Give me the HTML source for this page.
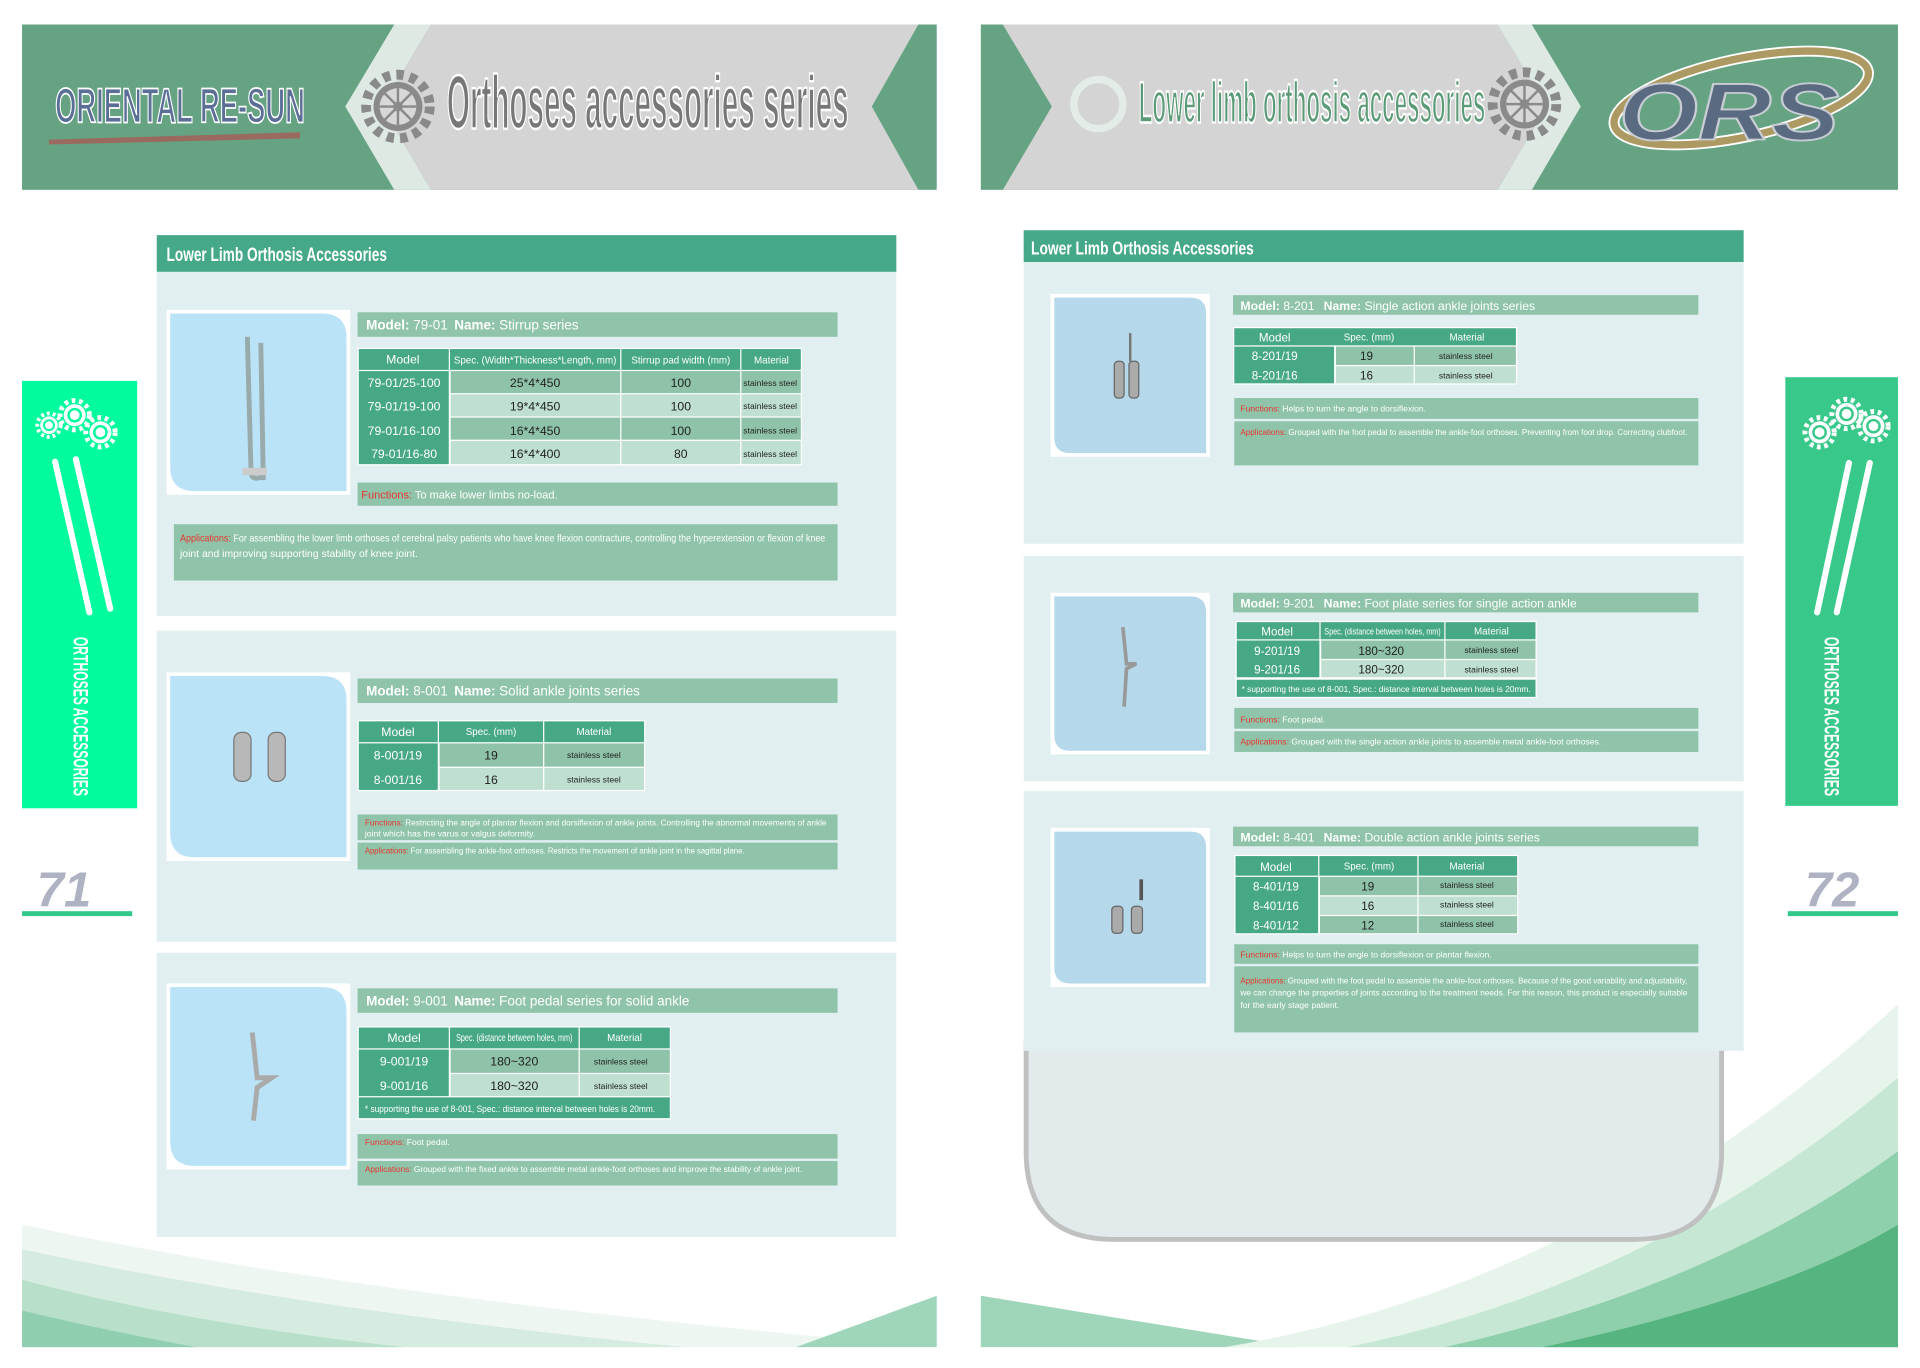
<!DOCTYPE html>
<html><head><meta charset="utf-8"><style>
html,body{margin:0;padding:0;background:#fff;width:1920px;height:1368px;overflow:hidden}
svg{display:block}
text{font-family:"Liberation Sans Narrow","Liberation Sans",sans-serif}
.w{fill:#fff}
.b{font-weight:bold}
.r{fill:#e8352f}
</style></head><body>
<svg width="1920" height="1368" viewBox="0 0 1568 1117" preserveAspectRatio="none" xmlns="http://www.w3.org/2000/svg">
<defs>
<g id="gear"><circle r="20" fill="#8a8a8a"/><circle r="26" fill="none" stroke="#8a8a8a" stroke-width="8" stroke-dasharray="6 5"/><circle r="15" fill="#d8d8d8"/><circle r="4" fill="#8a8a8a"/><g stroke="#8a8a8a" stroke-width="2"><line x1="-15" y1="0" x2="15" y2="0"/><line x1="0" y1="-15" x2="0" y2="15"/><line x1="-11" y1="-11" x2="11" y2="11"/><line x1="-11" y1="11" x2="11" y2="-11"/></g></g>
<g id="wgear"><circle r="9" fill="#fff"/><circle r="12" fill="none" stroke="#fff" stroke-width="4" stroke-dasharray="3 3"/><circle r="5" fill="none" stroke-width="2" stroke="currentColor"/></g>
</defs>

<!-- LEFT HEADER -->
<rect x="18" y="20" width="747" height="135" fill="#65a383"/>
<polygon points="322,20 352,20 312,87 352,155 322,155 282,87" fill="#dfe9e4"/>
<polygon points="352,20 750,20 712,87 750,155 352,155 312,87" fill="#d4d4d4"/>
<text x="45" y="100" font-size="40" class="b" fill="#5b6f96" stroke="#fff" stroke-width="1.5" textLength="204" lengthAdjust="spacingAndGlyphs">ORIENTAL RE-SUN</text>
<path d="M40,114 L245,108 L245,113 L40,118 Z" fill="#9a6a60"/>
<use href="#gear" x="325" y="87"/>
<text x="365" y="105" font-size="62" class="b" fill="#777" stroke="#fff" stroke-width="2" textLength="328" lengthAdjust="spacingAndGlyphs">Orthoses accessories series</text>

<!-- RIGHT HEADER -->
<rect x="801" y="20" width="749" height="135" fill="#65a383"/>
<polygon points="819,20 1223,20 1263,87 1223,155 819,155 859,87" fill="#d4d4d4"/>
<polygon points="1223,20 1251,20 1291,87 1251,155 1223,155 1263,87" fill="#dfe9e4"/>
<circle cx="897" cy="85" r="20" fill="none" stroke="#e4ece7" stroke-width="6"/>
<text x="930" y="100" font-size="48" class="b" fill="#5a9a76" stroke="#fff" stroke-width="2" textLength="283" lengthAdjust="spacingAndGlyphs">Lower limb orthosis accessories</text>
<use href="#gear" x="1245" y="85"/>
<ellipse cx="1422" cy="80" rx="106" ry="32" transform="rotate(-12 1422 80)" fill="none" stroke="#fff" stroke-width="9"/>
<ellipse cx="1422" cy="80" rx="106" ry="32" transform="rotate(-12 1422 80)" fill="none" stroke="#ad9a62" stroke-width="6"/>
<text x="1322" y="114" font-size="66" class="b" font-style="italic" fill="#5a6a80" stroke="#c8ccd4" stroke-width="1.5" textLength="180" lengthAdjust="spacingAndGlyphs" font-family="Liberation Sans">ORS</text>

<!-- SIDEBARS -->
<rect x="18" y="311" width="94" height="349" fill="#02fb9c"/>
<g color="#02fb9c"><use href="#wgear" x="40" y="347" transform="scale(0.8) translate(10 87)"/><use href="#wgear" x="61" y="339"/><use href="#wgear" x="82" y="353"/></g>
<g stroke="#fff" stroke-width="5" stroke-linecap="round"><line x1="45" y1="377" x2="73" y2="500"/><line x1="62" y1="375" x2="90" y2="497"/></g>
<text transform="translate(60,520) rotate(90)" font-size="17" class="b w" textLength="130" lengthAdjust="spacingAndGlyphs">ORTHOSES ACCESSORIES</text>
<text x="30" y="740" font-size="40" class="b" fill="#aeb2c3" font-family="Liberation Serif" font-style="italic">71</text>
<rect x="18" y="744" width="90" height="4" fill="#33c98a"/>

<rect x="1458" y="308" width="92" height="350" fill="#38c98a"/>
<g color="#38c98a"><use href="#wgear" x="1486" y="353"/><use href="#wgear" x="1508" y="338"/><use href="#wgear" x="1530" y="348"/></g>
<g stroke="#fff" stroke-width="5" stroke-linecap="round"><line x1="1510" y1="378" x2="1484" y2="500"/><line x1="1527" y1="378" x2="1500" y2="500"/></g>
<text transform="translate(1490,520) rotate(90)" font-size="17" class="b w" textLength="130" lengthAdjust="spacingAndGlyphs">ORTHOSES ACCESSORIES</text>
<text x="1474" y="740" font-size="40" class="b" fill="#aeb2c3" font-family="Liberation Serif" font-style="italic">72</text>
<rect x="1460" y="744" width="90" height="4" fill="#33c98a"/>

<!-- BOTTOM WAVES -->
<path d="M18,1000 Q300,1060 765,1100 L18,1100 Z" fill="#eef6f1"/>
<path d="M18,1020 Q250,1070 560,1100 L18,1100 Z" fill="#d6ece0"/>
<path d="M18,1045 Q150,1080 330,1100 L18,1100 Z" fill="#b8dfc9"/>
<path d="M18,1070 Q80,1085 160,1100 L18,1100 Z" fill="#8fcfaf"/>
<path d="M650,1100 L765,1058 L765,1100 Z" fill="#9fd6b9"/>
<path d="M801,1058 L1060,1100 L801,1100 Z" fill="#9fd6b9"/>
<path d="M1000,1100 Q1300,1050 1550,820 L1550,1100 Z" fill="#e7f4ec"/>
<path d="M1100,1100 Q1350,1050 1550,880 L1550,1100 Z" fill="#c6e7d4"/>
<path d="M1180,1100 Q1400,1050 1550,940 L1550,1100 Z" fill="#8fd0ac"/>
<path d="M1260,1100 Q1450,1060 1550,1000 L1550,1100 Z" fill="#55b47f"/>

<!-- LEFT PANEL -->
<rect x="128" y="192" width="604" height="30" fill="#45a888"/>
<text x="136" y="213" font-size="16" class="b w" textLength="180" lengthAdjust="spacingAndGlyphs">Lower Limb Orthosis Accessories</text>
<rect x="128" y="222" width="604" height="281" fill="#e2eff0"/>
<rect x="128" y="515" width="604" height="254" fill="#e2eff0"/>
<rect x="128" y="778" width="604" height="232" fill="#e2eff0"/>

<!-- L1 -->
<rect x="136" y="253" width="150" height="151" fill="#fff"/>
<path d="M139,256 H263 Q283,256 283,276 V401 H159 Q139,401 139,381 Z" fill="#bae3f8"/>
<path d="M202,275 L205,385 Q205,392 212,390 L215,390 L213,280" fill="none" stroke="#9aa" stroke-width="4"/>
<rect x="198" y="382" width="20" height="6" fill="#ccc"/>
<rect x="292" y="255" width="392" height="20" fill="#8fc4aa"/>
<text x="299" y="269" font-size="11" class="w"><tspan class="b">Model:</tspan> 79-01</text><text x="371" y="269" font-size="11" class="w"><tspan class="b">Name:</tspan> Stirrup series</text>
<rect x="292" y="284" width="363" height="96" fill="#fff"/>
<rect x="293" y="285" width="361" height="17" fill="#47a886"/>
<rect x="293" y="303" width="74" height="76" fill="#47a886"/>
<rect x="368" y="303" width="286" height="18" fill="#8fc3a9"/>
<rect x="368" y="322" width="286" height="18" fill="#bfe0d0"/>
<rect x="368" y="341" width="286" height="18" fill="#8fc3a9"/>
<rect x="368" y="360" width="286" height="19" fill="#bfe0d0"/>
<g stroke="#fff" stroke-width="1"><line x1="367" y1="284" x2="367" y2="380"/><line x1="507" y1="284" x2="507" y2="380"/><line x1="605" y1="284" x2="605" y2="380"/></g>
<g font-size="10" class="w" text-anchor="middle"><text x="329" y="297">Model</text><text x="437" y="297" font-size="8">Spec. (Width*Thickness*Length, mm)</text><text x="556" y="297" font-size="8">Stirrup pad width (mm)</text><text x="630" y="297" font-size="8">Material</text>
<text x="330" y="316">79-01/25-100</text><text x="330" y="335">79-01/19-100</text><text x="330" y="355">79-01/16-100</text><text x="330" y="374">79-01/16-80</text></g>
<g font-size="10" fill="#222" text-anchor="middle"><text x="437" y="316">25*4*450</text><text x="437" y="335">19*4*450</text><text x="437" y="355">16*4*450</text><text x="437" y="374">16*4*400</text>
<text x="556" y="316">100</text><text x="556" y="335">100</text><text x="556" y="355">100</text><text x="556" y="374">80</text>
<g font-size="7"><text x="629" y="315">stainless steel</text><text x="629" y="334">stainless steel</text><text x="629" y="354">stainless steel</text><text x="629" y="373">stainless steel</text></g></g>
<rect x="292" y="394" width="392" height="19" fill="#8fc4aa"/>
<text x="295" y="407" font-size="9" class="w"><tspan class="r">Functions:</tspan> To make lower limbs no-load.</text>
<rect x="142" y="428" width="542" height="46" fill="#8fc4aa"/>
<text x="147" y="442" font-size="8.5" class="w" textLength="527" lengthAdjust="spacingAndGlyphs"><tspan class="r">Applications:</tspan> For assembling the lower limb orthoses of cerebral palsy patients who have knee flexion contracture, controlling the hyperextension or flexion of knee</text>
<text x="147" y="455" font-size="8.5" class="w">joint and improving supporting stability of knee joint.</text>

<!-- L2 -->
<rect x="136" y="549" width="150" height="154" fill="#fff"/>
<path d="M139,552 H263 Q283,552 283,572 V700 H159 Q139,700 139,680 Z" fill="#bae3f8"/>
<rect x="191" y="598" width="14" height="40" rx="6" fill="#b8b8b8" stroke="#777"/><rect x="219" y="598" width="14" height="40" rx="6" fill="#b8b8b8" stroke="#777"/>
<rect x="292" y="554" width="392" height="20" fill="#8fc4aa"/>
<text x="299" y="568" font-size="11" class="w"><tspan class="b">Model:</tspan> 8-001</text><text x="371" y="568" font-size="11" class="w"><tspan class="b">Name:</tspan> Solid ankle joints series</text>
<rect x="292" y="588" width="235" height="58" fill="#fff"/>
<rect x="293" y="589" width="233" height="17" fill="#47a886"/>
<rect x="293" y="607" width="65" height="38" fill="#47a886"/>
<rect x="359" y="607" width="167" height="19" fill="#8fc3a9"/><rect x="359" y="627" width="167" height="18" fill="#bfe0d0"/>
<g stroke="#fff"><line x1="358" y1="588" x2="358" y2="646"/><line x1="444" y1="588" x2="444" y2="646"/></g>
<g font-size="10" class="w" text-anchor="middle"><text x="325" y="601">Model</text><text x="401" y="600" font-size="8">Spec. (mm)</text><text x="485" y="600" font-size="8">Material</text><text x="325" y="620">8-001/19</text><text x="325" y="640">8-001/16</text></g>
<g font-size="10" fill="#222" text-anchor="middle"><text x="401" y="620">19</text><text x="401" y="640">16</text><g font-size="7"><text x="485" y="619">stainless steel</text><text x="485" y="639">stainless steel</text></g></g>
<rect x="292" y="665" width="392" height="21" fill="#8fc4aa"/>
<text x="298" y="674" font-size="7" class="w" textLength="377" lengthAdjust="spacingAndGlyphs"><tspan class="r">Functions:</tspan> Restricting the angle of plantar flexion and dorsiflexion of ankle joints. Controlling the abnormal movements of ankle</text>
<text x="298" y="683" font-size="7" class="w">joint which has the varus or valgus deformity.</text>
<rect x="292" y="688" width="392" height="22" fill="#8fc4aa"/>
<text x="298" y="697" font-size="7" class="w" textLength="310" lengthAdjust="spacingAndGlyphs"><tspan class="r">Applications:</tspan> For assembling the ankle-foot orthoses. Restricts the movement of ankle joint in the sagittal plane.</text>

<!-- L3 -->
<rect x="136" y="803" width="150" height="152" fill="#fff"/>
<path d="M139,806 H263 Q283,806 283,826 V952 H159 Q139,952 139,932 Z" fill="#bae3f8"/>
<path d="M206,843 L210,880 L222,880 L210,888 L207,915" fill="none" stroke="#aaa" stroke-width="4"/>
<rect x="292" y="807" width="392" height="20" fill="#8fc4aa"/>
<text x="299" y="821" font-size="11" class="w"><tspan class="b">Model:</tspan> 9-001</text><text x="371" y="821" font-size="11" class="w"><tspan class="b">Name:</tspan> Foot pedal series for solid ankle</text>
<rect x="292" y="838" width="256" height="76" fill="#fff"/>
<rect x="293" y="839" width="254" height="17" fill="#47a886"/>
<rect x="293" y="857" width="74" height="38" fill="#47a886"/>
<rect x="368" y="857" width="179" height="19" fill="#8fc3a9"/><rect x="368" y="877" width="179" height="18" fill="#bfe0d0"/>
<rect x="293" y="896" width="254" height="17" fill="#47a886"/>
<g stroke="#fff"><line x1="367" y1="838" x2="367" y2="895"/><line x1="473" y1="838" x2="473" y2="895"/></g>
<g font-size="10" class="w" text-anchor="middle"><text x="330" y="851">Model</text><text x="420" y="850" font-size="8" textLength="95" lengthAdjust="spacingAndGlyphs">Spec. (distance between holes, mm)</text><text x="510" y="850" font-size="8">Material</text><text x="330" y="870">9-001/19</text><text x="330" y="890">9-001/16</text></g>
<g font-size="10" fill="#222" text-anchor="middle"><text x="420" y="870">180~320</text><text x="420" y="890">180~320</text><g font-size="7"><text x="507" y="869">stainless steel</text><text x="507" y="889">stainless steel</text></g></g>
<text x="298" y="908" font-size="7.5" class="w" textLength="237" lengthAdjust="spacingAndGlyphs">* supporting the use of 8-001, Spec.: distance interval between holes is 20mm.</text>
<rect x="292" y="926" width="392" height="20" fill="#8fc4aa"/>
<text x="298" y="935" font-size="7" class="w"><tspan class="r">Functions:</tspan> Foot pedal.</text>
<rect x="292" y="948" width="392" height="20" fill="#8fc4aa"/>
<text x="298" y="957" font-size="7" class="w" textLength="357" lengthAdjust="spacingAndGlyphs"><tspan class="r">Applications:</tspan> Grouped with the fixed ankle to assemble metal ankle-foot orthoses and improve the stability of ankle joint.</text>

<!-- RIGHT PANEL -->
<path d="M838,850 V940 Q838,1012 910,1012 H1334 Q1406,1012 1406,940 V850" fill="#e2eaec" stroke="#c0c0c0" stroke-width="4"/>
<rect x="836" y="188" width="588" height="26" fill="#45a888"/>
<text x="842" y="208" font-size="15" class="b w" textLength="182" lengthAdjust="spacingAndGlyphs">Lower Limb Orthosis Accessories</text>
<rect x="836" y="214" width="588" height="230" fill="#e2eff0"/>
<rect x="836" y="454" width="588" height="184" fill="#e2eff0"/>
<rect x="836" y="646" width="588" height="212" fill="#e2eff0"/>

<!-- R1 -->
<rect x="858" y="240" width="130" height="133" fill="#fff"/>
<path d="M861,243 H972 Q985,243 985,256 V370 H874 Q861,370 861,357 Z" fill="#b5d9ea"/>
<rect x="910" y="295" width="8" height="30" rx="3" fill="#aaa" stroke="#666"/><rect x="922" y="295" width="8" height="30" rx="3" fill="#aaa" stroke="#666"/><line x1="923" y1="272" x2="923" y2="295" stroke="#777" stroke-width="2"/>
<rect x="1007" y="241" width="380" height="16" fill="#8fc4aa"/>
<text x="1013" y="253" font-size="10" class="w"><tspan class="b">Model:</tspan> 8-201</text><text x="1081" y="253" font-size="10" class="w"><tspan class="b">Name:</tspan> Single action ankle joints series</text>
<rect x="1007" y="267" width="232" height="47" fill="#fff"/>
<rect x="1008" y="268" width="230" height="14" fill="#47a886"/>
<rect x="1008" y="283" width="82" height="30" fill="#47a886"/>
<rect x="1091" y="283" width="147" height="15" fill="#8fc3a9"/><rect x="1091" y="299" width="147" height="14" fill="#bfe0d0"/>
<g stroke="#fff"><line x1="1155" y1="282" x2="1155" y2="314"/><line x1="1090" y1="282" x2="1090" y2="314"/></g>
<g font-size="9.5" class="w" text-anchor="middle"><text x="1041" y="279">Model</text><text x="1118" y="278" font-size="8">Spec. (mm)</text><text x="1198" y="278" font-size="8">Material</text><text x="1041" y="294">8-201/19</text><text x="1041" y="310">8-201/16</text></g>
<g font-size="9.5" fill="#222" text-anchor="middle"><text x="1116" y="294">19</text><text x="1116" y="310">16</text><g font-size="7"><text x="1197" y="293">stainless steel</text><text x="1197" y="309">stainless steel</text></g></g>
<rect x="1008" y="325" width="379" height="17" fill="#8fc4aa"/>
<text x="1013" y="336" font-size="7" class="w"><tspan class="r">Functions:</tspan> Helps to turn the angle to dorsiflexion.</text>
<rect x="1008" y="344" width="379" height="36" fill="#8fc4aa"/>
<text x="1013" y="355" font-size="7" class="w" textLength="365" lengthAdjust="spacingAndGlyphs"><tspan class="r">Applications:</tspan> Grouped with the foot pedal to assemble the ankle-foot orthoses. Preventing from foot drop. Correcting clubfoot.</text>

<!-- R2 -->
<rect x="858" y="484" width="130" height="132" fill="#fff"/>
<path d="M861,487 H972 Q985,487 985,500 V613 H874 Q861,613 861,600 Z" fill="#b5d9ea"/>
<path d="M917,512 L920,542 L928,542 L920,546 L918,577" fill="none" stroke="#999" stroke-width="3"/>
<rect x="1007" y="484" width="380" height="16" fill="#8fc4aa"/>
<text x="1013" y="496" font-size="10" class="w"><tspan class="b">Model:</tspan> 9-201</text><text x="1081" y="496" font-size="10" class="w"><tspan class="b">Name:</tspan> Foot plate series for single action ankle</text>
<rect x="1009" y="507" width="246" height="63" fill="#fff"/>
<rect x="1010" y="508" width="244" height="14" fill="#47a886"/>
<rect x="1010" y="523" width="68" height="30" fill="#47a886"/>
<rect x="1079" y="523" width="175" height="15" fill="#8fc3a9"/><rect x="1079" y="539" width="175" height="14" fill="#bfe0d0"/>
<rect x="1010" y="555" width="244" height="14" fill="#47a886"/>
<g stroke="#fff"><line x1="1078" y1="507" x2="1078" y2="554"/><line x1="1180" y1="507" x2="1180" y2="554"/></g>
<g font-size="9.5" class="w" text-anchor="middle"><text x="1043" y="519">Model</text><text x="1129" y="518" font-size="7.5" textLength="95" lengthAdjust="spacingAndGlyphs">Spec. (distance between holes, mm)</text><text x="1218" y="518" font-size="8">Material</text><text x="1043" y="535">9-201/19</text><text x="1043" y="550">9-201/16</text></g>
<g font-size="9.5" fill="#222" text-anchor="middle"><text x="1128" y="535">180~320</text><text x="1128" y="550">180~320</text><g font-size="7"><text x="1218" y="533">stainless steel</text><text x="1218" y="549">stainless steel</text></g></g>
<text x="1014" y="565" font-size="7" class="w" textLength="236" lengthAdjust="spacingAndGlyphs">* supporting the use of 8-001, Spec.: distance interval between holes is 20mm.</text>
<rect x="1008" y="578" width="379" height="17" fill="#8fc4aa"/>
<text x="1013" y="590" font-size="7" class="w"><tspan class="r">Functions:</tspan> Foot pedal.</text>
<rect x="1008" y="597" width="379" height="17" fill="#8fc4aa"/>
<text x="1013" y="608" font-size="7" class="w"><tspan class="r">Applications:</tspan> Grouped with the single action ankle joints to assemble metal ankle-foot orthoses.</text>

<!-- R3 -->
<rect x="858" y="676" width="130" height="130" fill="#fff"/>
<path d="M861,679 H972 Q985,679 985,692 V803 H874 Q861,803 861,790 Z" fill="#b5d9ea"/>
<rect x="908" y="740" width="9" height="22" rx="3" fill="#aaa" stroke="#666"/><rect x="924" y="740" width="9" height="22" rx="3" fill="#aaa" stroke="#666"/><line x1="932" y1="718" x2="932" y2="735" stroke="#555" stroke-width="3"/>
<rect x="1007" y="675" width="380" height="16" fill="#8fc4aa"/>
<text x="1013" y="687" font-size="10" class="w"><tspan class="b">Model:</tspan> 8-401</text><text x="1081" y="687" font-size="10" class="w"><tspan class="b">Name:</tspan> Double action ankle joints series</text>
<rect x="1008" y="698" width="232" height="65" fill="#fff"/>
<rect x="1009" y="699" width="230" height="16" fill="#47a886"/>
<rect x="1009" y="716" width="68" height="46" fill="#47a886"/>
<rect x="1078" y="716" width="161" height="15" fill="#8fc3a9"/><rect x="1078" y="732" width="161" height="15" fill="#bfe0d0"/><rect x="1078" y="748" width="161" height="14" fill="#8fc3a9"/>
<g stroke="#fff"><line x1="1077" y1="698" x2="1077" y2="763"/><line x1="1158" y1="698" x2="1158" y2="763"/></g>
<g font-size="9.5" class="w" text-anchor="middle"><text x="1042" y="711">Model</text><text x="1118" y="710" font-size="8">Spec. (mm)</text><text x="1198" y="710" font-size="8">Material</text><text x="1042" y="727">8-401/19</text><text x="1042" y="743">8-401/16</text><text x="1042" y="759">8-401/12</text></g>
<g font-size="9.5" fill="#222" text-anchor="middle"><text x="1117" y="727">19</text><text x="1117" y="743">16</text><text x="1117" y="759">12</text><g font-size="7"><text x="1198" y="725">stainless steel</text><text x="1198" y="741">stainless steel</text><text x="1198" y="757">stainless steel</text></g></g>
<rect x="1008" y="771" width="379" height="16" fill="#8fc4aa"/>
<text x="1013" y="782" font-size="7" class="w"><tspan class="r">Functions:</tspan>  Helps to turn the angle to dorsiflexion or plantar flexion.</text>
<rect x="1008" y="789" width="379" height="54" fill="#8fc4aa"/>
<text x="1013" y="803" font-size="7" class="w" textLength="365" lengthAdjust="spacingAndGlyphs"><tspan class="r">Applications:</tspan> Grouped with the foot pedal to assemble the ankle-foot orthoses. Because of the good variability and adjustability,</text>
<text x="1013" y="813" font-size="7" class="w" textLength="365" lengthAdjust="spacingAndGlyphs">we can change the properties of joints according to the treatment needs. For this reason, this product is especially suitable</text>
<text x="1013" y="823" font-size="7" class="w">for the early stage patient.</text>
</svg>
</body></html>
